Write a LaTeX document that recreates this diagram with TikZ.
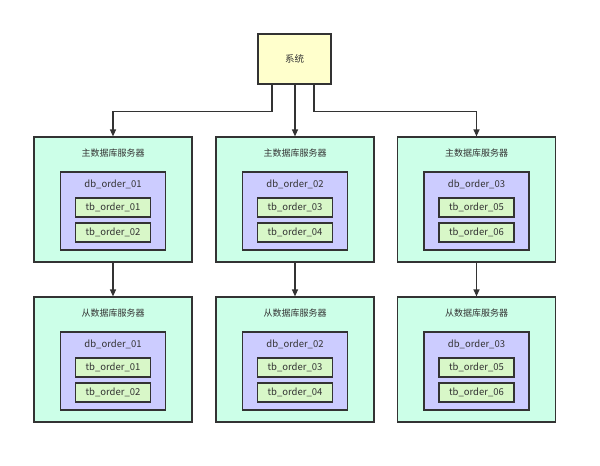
\documentclass[tikz,border=0pt]{standalone}
\usepackage{fontspec}
\setmainfont{Noto Sans CJK SC}
\usetikzlibrary{arrows.meta}
\definecolor{sysfill}{HTML}{FFFFCC}
\definecolor{srvfill}{HTML}{CCFFE8}
\definecolor{dbfill}{HTML}{CCCCFF}
\definecolor{tbfill}{HTML}{D8F7C8}
\definecolor{edge}{HTML}{333333}
\definecolor{txt}{HTML}{333333}
\begin{document}
\begin{tikzpicture}[x=1pt,y=-1pt,
  box/.style={draw=edge,line width=1.2pt,inner sep=0pt},
  sysbox/.style={box,fill=sysfill,minimum width=73pt,minimum height=50pt,font=\fontsize{9.5}{10}\selectfont,text=txt},
  srvbox/.style={box,fill=srvfill,minimum width=158pt,minimum height=125pt},
  dbbox/.style={box,fill=dbfill,minimum width=105pt,minimum height=78pt},
  tbbox/.style={box,fill=tbfill,minimum width=75pt,minimum height=19pt,font=\fontsize{9.5}{10}\selectfont,text=txt},
  ttl/.style={font=\fontsize{9}{10}\selectfont,text=txt,inner sep=0pt},
  dbl/.style={font=\fontsize{9.5}{10}\selectfont,text=txt,inner sep=0pt},
  arr/.style={draw=edge,line width=1.2pt,-{Triangle[width=6pt,length=7pt]}}]
\useasboundingbox (0,0) rectangle (600,466);
\fill[white] (0,0) rectangle (600,466);
\node[sysbox] (sys) at (294.5,59) {系统};
\foreach \c/\x/\d/\ta/\tb in {1/113/01/01/02,2/295/02/03/04,3/476.5/03/05/06}{
  % master
  \node[srvbox] (m\c) at (\x,199.5) {};
  \node[ttl] (mt\c) at (\x,153) {主数据库服务器};
  \node[dbbox] (md\c) at (\x,211) {};
  \node[dbl] (mdl\c) at (\x,184) {db\_order\_\d};
  \node[tbbox] (mta\c) at (\x,207.5) {tb\_order\_\ta};
  \node[tbbox] (mtb\c) at (\x,232.5) {tb\_order\_\tb};
  % slave
  \node[srvbox] (s\c) at (\x,359.5) {};
  \node[ttl] (st\c) at (\x,313) {从数据库服务器};
  \node[dbbox] (sd\c) at (\x,371) {};
  \node[dbl] (sdl\c) at (\x,344) {db\_order\_\d};
  \node[tbbox] (sta\c) at (\x,367.5) {tb\_order\_\ta};
  \node[tbbox] (stb\c) at (\x,392.5) {tb\_order\_\tb};
  \draw[arr] (m\c.south) -- (s\c.north);
}
\draw[arr] ([xshift=-22.5pt]sys.south) -- ++(0,27) -| (m1.north);
\draw[arr] (sys.south -| m2.north) -- (m2.north);
\draw[arr] ([xshift=19.5pt]sys.south) -- ++(0,27) -| (m3.north);
\end{tikzpicture}
\end{document}
